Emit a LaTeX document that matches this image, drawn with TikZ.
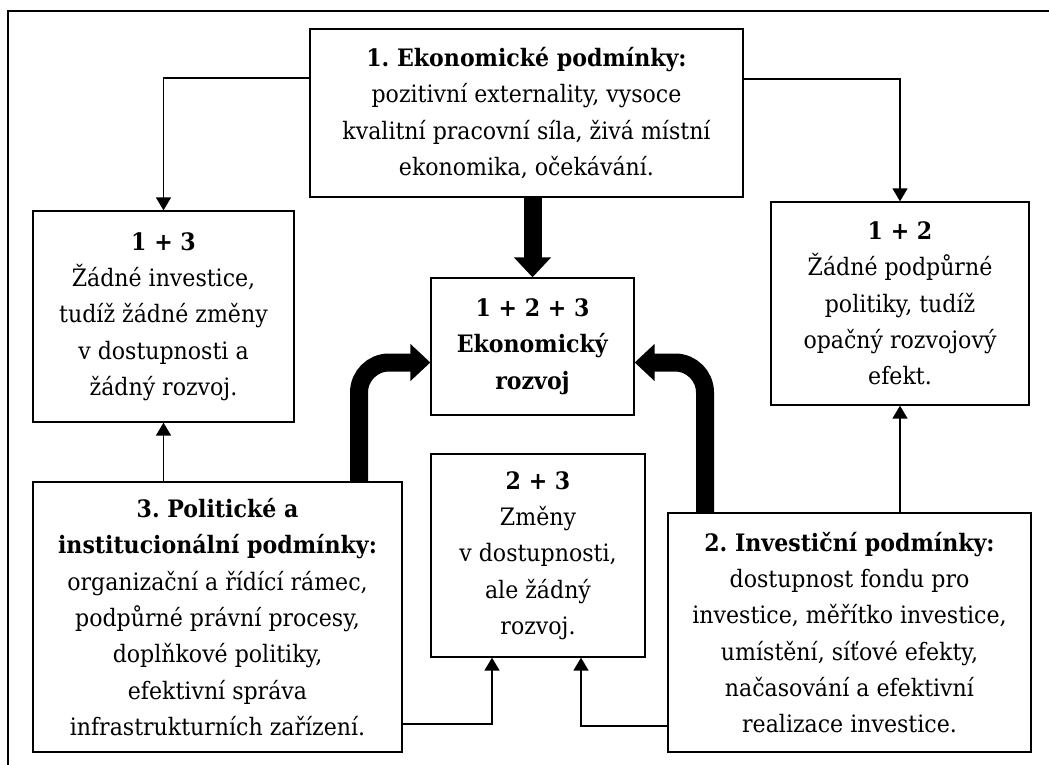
\documentclass[tikz,border=0pt]{standalone}
\usepackage{fontspec}
\setmainfont{DejaVu Serif}[FakeStretch=0.92]
\usetikzlibrary{arrows.meta}
\frenchspacing

\tikzset{
    box/.style={draw, line width=1.3pt, align=center, inner sep=0pt,
        font=\fontsize{24}{36.3}\selectfont},
    thinarrow/.style={line width=1.5pt, -{Triangle[width=15pt,length=13pt]}},
    fatarrow/.style={line width=18pt, -{Triangle[width=36pt,length=20pt]}},
}

\begin{document}
\begin{tikzpicture}[x=1pt,y=-1pt]

            \useasboundingbox (0,0) rectangle (1049,765);
            \draw[line width=1.6pt] (8,765) -- (8,11) -- (1049,11);

            \node[box, minimum width=433pt, minimum height=168pt] (econ) at (526.5,113)
                {\textbf{1. Ekonomické podmínky:}\\pozitivní externality, vysoce\\kvalitní pracovní síla, živá místní\\ekonomika, očekávání.};
            \node[box, minimum width=261pt, minimum height=211pt] (econpol) at (163.5,316.5)
                {\textbf{1 + 3}\\Žádné investice,\\tudíž žádné změny\\v dostupnosti a\\žádný rozvoj.};
            \node[box, minimum width=258pt, minimum height=203pt] (econinv) at (900,303.5)
                {\textbf{1 + 2}\\Žádné podpůrné\\politiky, tudíž\\opačný rozvojový\\efekt.};
            \node[box, minimum width=203pt, minimum height=137pt] (growth) at (532.5,346.5)
                {\textbf{1 + 2 + 3}\\\textbf{Ekonomický}\\\textbf{rozvoj}};
            \node[box, minimum width=214pt, minimum height=203pt] (invpol) at (538,555.5)
                {\textbf{2 + 3}\\Změny\\v dostupnosti,\\ale žádný\\rozvoj.};
            \node[box, minimum width=369pt, minimum height=270pt] (pol) at (217.5,617)
                {\textbf{3. Politické a}\\\textbf{institucionální podmínky:}\\organizační a řídící rámec,\\podpůrné právní procesy,\\doplňkové politiky,\\efektivní správa\\infrastrukturních zařízení.};
            \node[box, minimum width=363pt, minimum height=239pt] (inv) at (849.5,632.5)
                {\textbf{2. Investiční podmínky:}\\dostupnost fondu pro\\investice, měřítko investice,\\umístění, síťové efekty,\\načasování a efektivní\\realizace investice.};

            \draw[thinarrow] ([yshift=35pt]econ.west) -| (econpol.north);
            \draw[thinarrow] ([yshift=34pt]econ.east) -| (econinv.north);
            \draw[thinarrow] (pol.north -| econpol.south) -- (econpol.south);
            \draw[thinarrow] (inv.north -| econinv.south) -- (econinv.south);
            \draw[thinarrow] ([yshift=-107pt]pol.east) -| ([xshift=-46pt]invpol.south);
            \draw[thinarrow] ([yshift=-93.5pt]inv.west) -| ([xshift=43pt]invpol.south);

            \draw[fatarrow] (econ.south -| growth.north) -- (growth.north);
            \draw[fatarrow, rounded corners=30pt] ([xshift=141.5pt]pol.north) |- ([yshift=-16pt]growth.west);
            \draw[fatarrow, rounded corners=30pt] ([xshift=-144.5pt]inv.north) |- ([yshift=-16pt]growth.east);
        \end{tikzpicture}
\end{document}
